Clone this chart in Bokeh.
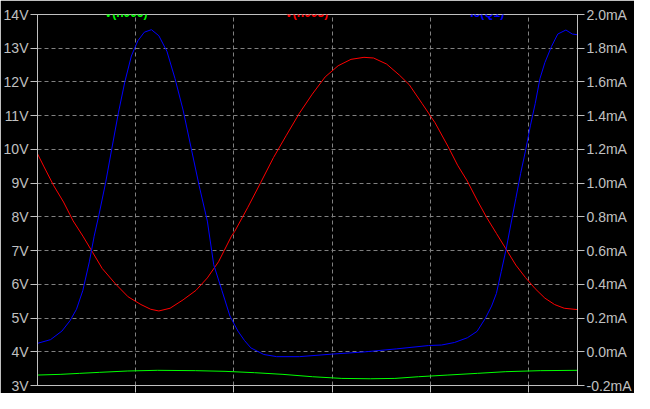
from bokeh.plotting import figure
from bokeh.models import (Range1d, LinearAxis, FixedTicker, PrintfTickFormatter,
                          Label, CustomJSTickFormatter)
from bokeh.embed import file_html
from bokeh.resources import INLINE

# ---- data ----
green_t = [0.0, 0.23, 0.43, 0.63, 0.92, 1.22, 1.61, 1.91, 2.21, 2.50, 2.80,
           3.10, 3.39, 3.64, 3.88, 4.18, 4.48, 4.77, 5.12, 5.5]
green_v = [3.31, 3.33, 3.36, 3.39, 3.43, 3.45, 3.44, 3.42, 3.38, 3.33, 3.26,
           3.21, 3.20, 3.21, 3.26, 3.31, 3.36, 3.41, 3.44, 3.45]

red_t = [0.0, 0.067, 0.166, 0.265, 0.363, 0.462, 0.561, 0.659, 0.792, 0.923,
         1.054, 1.153, 1.236, 1.350, 1.483, 1.614, 1.730, 1.844, 1.976, 2.009,
         2.140, 2.272, 2.404, 2.535, 2.667, 2.799, 2.930, 3.062, 3.193, 3.325,
         3.423, 3.556, 3.687, 3.786, 3.917, 4.049, 4.181, 4.279, 4.378, 4.477,
         4.575, 4.674, 4.773, 4.872, 4.970, 5.069, 5.168, 5.267, 5.365, 5.5]
red_v = [9.87, 9.48, 8.92, 8.44, 7.88, 7.43, 6.95, 6.47, 6.02, 5.63,
         5.40, 5.26, 5.21, 5.29, 5.54, 5.82, 6.19, 6.67, 7.43, 7.57,
         8.27, 9.01, 9.76, 10.42, 11.07, 11.64, 12.15, 12.48, 12.67, 12.73,
         12.71, 12.53, 12.20, 11.92, 11.36, 10.79, 10.09, 9.53, 9.06, 8.50,
         7.98, 7.51, 7.04, 6.57, 6.20, 5.87, 5.59, 5.40, 5.29, 5.25]

blue_t = [0.0, 0.133, 0.249, 0.331, 0.397, 0.462, 0.528, 0.577, 0.627, 0.693,
          0.758, 0.824, 0.890, 0.956, 1.022, 1.088, 1.160, 1.236, 1.318, 1.400,
          1.483, 1.565, 1.647, 1.730, 1.795, 1.878, 1.960, 2.041, 2.108, 2.173,
          2.305, 2.436, 2.667, 2.996, 3.325, 3.654, 3.983, 4.115, 4.247, 4.378,
          4.477, 4.559, 4.625, 4.674, 4.724, 4.773, 4.822, 4.872, 4.921, 4.970,
          5.020, 5.069, 5.118, 5.168, 5.234, 5.299, 5.382, 5.447, 5.5]
blue_ma = [0.050, 0.072, 0.123, 0.184, 0.252, 0.364, 0.533, 0.685, 0.815, 1.000,
           1.208, 1.417, 1.602, 1.754, 1.844, 1.895, 1.910, 1.874, 1.782, 1.621,
           1.433, 1.208, 0.983, 0.775, 0.516, 0.364, 0.212, 0.123, 0.067, 0.023,
           -0.016, -0.029, -0.029, -0.014, -0.001, 0.017, 0.037, 0.040, 0.055, 0.083,
           0.121, 0.196, 0.271, 0.346, 0.477, 0.608, 0.758, 0.909, 1.058, 1.190,
           1.340, 1.471, 1.621, 1.715, 1.809, 1.884, 1.908, 1.884, 1.880]

v_ticks = [3, 4, 5, 6, 7, 8, 9, 10, 11, 12, 13, 14]
i_ticks = [-0.2, 0.0, 0.2, 0.4, 0.6, 0.8, 1.0, 1.2, 1.4, 1.6, 1.8, 2.0]
t_ticks = [1, 2, 3, 4, 5]

series_names = ["V(n006)", "V(n003)", "Ic(Q1)"]
series_label_t = [0.90, 2.74, 4.58]

AX = "#c0c0c0"
GRID = "#808080"
FONT = "Liberation Sans"

p = figure(width=634, height=393, output_backend="svg", toolbar_location=None,
           x_range=Range1d(0, 5.5), y_range=Range1d(3, 14),
           background_fill_color="black", border_fill_color="black",
           min_border_left=0, min_border_right=0, min_border_top=14,
           min_border_bottom=8)
p.extra_y_ranges = {"i": Range1d(-0.2, 2.0)}
p.outline_line_color = AX
p.outline_line_alpha = 1.0

# grid
p.xgrid.ticker = FixedTicker(ticks=t_ticks)
p.ygrid.ticker = FixedTicker(ticks=v_ticks)
for g in (p.xgrid, p.ygrid):
    g.grid_line_color = GRID
    g.grid_line_dash = "4 3"
    g.grid_line_width = 1

# x axis (ticks only, no labels)
xa = p.xaxis[0]
xa.ticker = FixedTicker(ticks=t_ticks)
xa.formatter = CustomJSTickFormatter(code="return '';")
xa.major_label_text_font_size = "1px"
xa.major_label_standoff = 0
xa.major_tick_out = 7
xa.major_tick_in = 0
xa.minor_tick_line_color = None
xa.axis_line_color = AX
xa.major_tick_line_color = AX

# left axis
ya = p.yaxis[0]
ya.ticker = FixedTicker(ticks=v_ticks)
ya.formatter = PrintfTickFormatter(format="%dV")

# right axis
ra = LinearAxis(y_range_name="i", ticker=FixedTicker(ticks=i_ticks),
                formatter=PrintfTickFormatter(format="%.1fmA"))
p.add_layout(ra, "right")

for a in (ya, ra):
    a.major_tick_out = 7
    a.major_tick_in = 0
    a.minor_tick_line_color = None
    a.axis_line_color = AX
    a.major_tick_line_color = AX
    a.major_label_text_color = AX
    a.major_label_text_font = FONT
    a.major_label_text_font_size = "14px"
    a.major_label_standoff = 2

# traces
p.line(green_t, green_v, line_color="#00ff00", line_width=1)
p.line(red_t, red_v, line_color="#ff0000", line_width=1)
p.line(blue_t, blue_ma, line_color="#0000ff", line_width=1, y_range_name="i")

colors = ["#00ff00", "#ff0000", "#0000ff"]
for name, t, c in zip(series_names, series_label_t, colors):
    p.add_layout(Label(x=t, y=14.05, text=name, text_color=c,
                       text_font=FONT, text_font_size="12px",
                       text_font_style="bold", text_align="center",
                       text_baseline="alphabetic"))

open("out.html", "w").write(file_html(p, INLINE))
